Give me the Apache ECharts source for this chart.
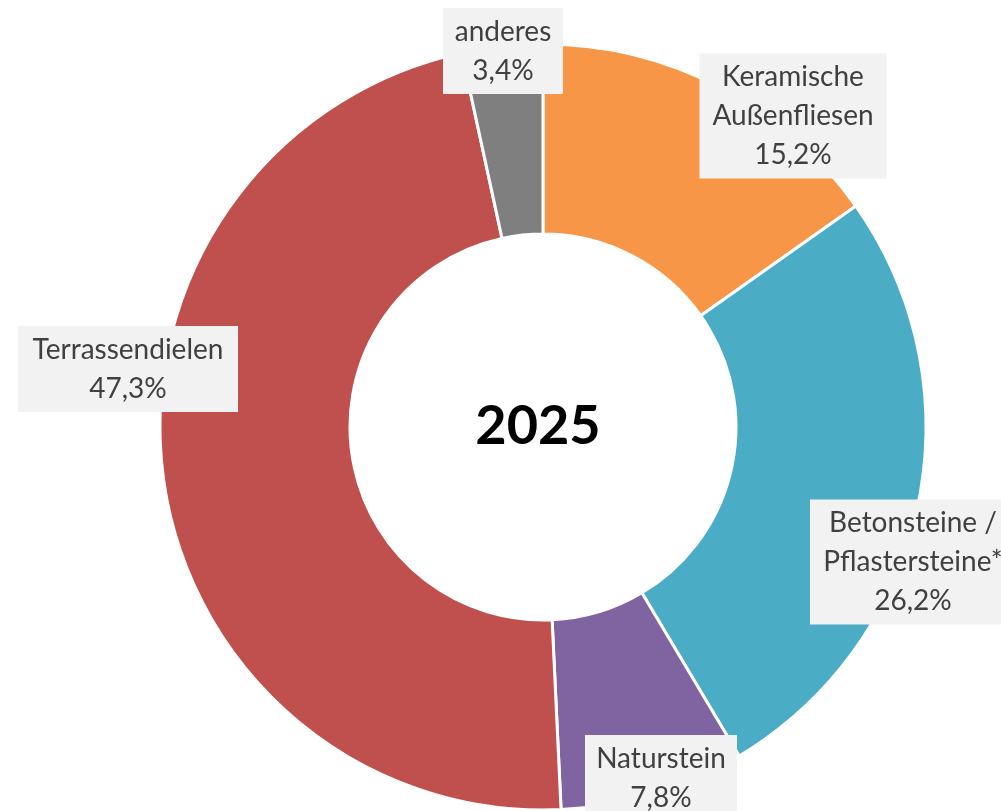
<!DOCTYPE html>
<html>
<head>
<meta charset="utf-8">
<script src="https://cdn.jsdelivr.net/npm/echarts@6/dist/echarts.min.js"></script>
<style>
  html, body { margin: 0; padding: 0; background: #fff; }
  #main { width: 1001px; height: 811px; }
</style>
</head>
<body>
<div id="main"></div>
<script>
var categories = ['Keramische\nAußenfliesen', 'Betonsteine /\nPflastersteine*', 'Naturstein', 'Terrassendielen', 'anderes'];
var shares = [15.2, 26.2, 7.8, 47.3, 3.4];
var colors = ['#F79646', '#4BACC6', '#8064A2', '#C0504D', '#7F7F7F'];
var centerLabel = '2025';

// label box centres and text widths, placed like the original (best fit)
var labelPos = [[793, 116], [913, 562], [661, 778], [128, 369], [503, 51]];
var labelWidth = [171, 190, 136, 204, 104];

var chart = echarts.init(document.getElementById('main'));

var pieData = categories.map(function (c, i) {
    return {
        name: c,
        value: shares[i],
        itemStyle: { color: colors[i] },
        label: { width: labelWidth[i] }
    };
});

chart.setOption({
    animation: false,
    graphic: [{
        type: 'text',
        style: {
            text: centerLabel,
            x: 538, y: 427,
            align: 'center', verticalAlign: 'middle',
            font: 'bold 54px Lato',
            fill: '#000'
        }
    }],
    series: [{
        type: 'pie',
        center: [543, 427],
        radius: [193, 383],
        startAngle: 90,
        clockwise: true,
        itemStyle: { borderColor: '#fff', borderWidth: 3 },
        label: {
            show: true,
            position: 'outside',
            overflow: 'none',
            formatter: function (p) {
                return p.name + '\n' + p.value.toFixed(1).replace('.', ',') + '%';
            },
            fontFamily: 'Lato',
            fontSize: 28,
            lineHeight: 39,
            color: '#404040',
            backgroundColor: '#F2F2F2',
            padding: [4, 8, 4, 8],
            align: 'center'
        },
        labelLine: { show: false },
        labelLayout: function (p) {
            var pos = labelPos[p.dataIndex];
            return { x: pos[0], y: pos[1], align: 'center', verticalAlign: 'middle' };
        },
        emphasis: { disabled: true },
        data: pieData
    }]
});
</script>
</body>
</html>
